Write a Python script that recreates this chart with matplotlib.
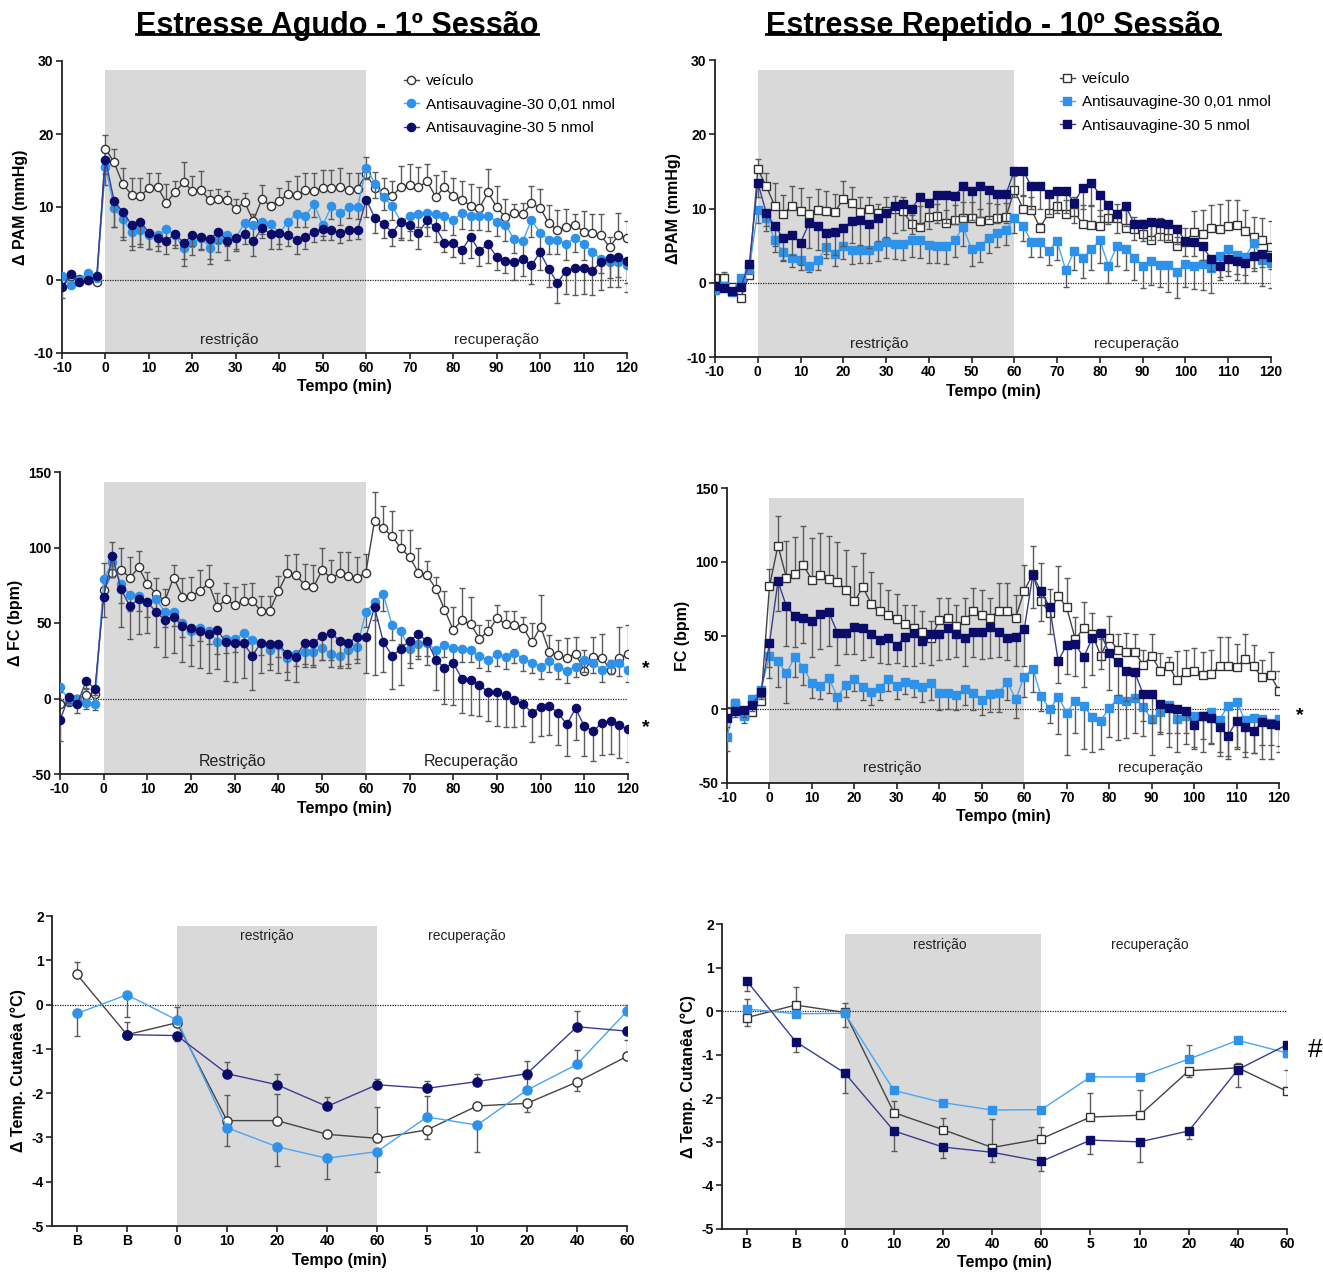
import numpy as np
import matplotlib
matplotlib.use('Agg')
import matplotlib.pyplot as plt
from matplotlib.lines import Line2D

plt.rcParams['font.family'] = ['Liberation Sans', 'DejaVu Sans']
plt.rcParams['axes.unicode_minus'] = False

# ---------------- data ----------------
t = list(range(-10, 121, 2))  # time points (min)

# Panel 1: Δ PAM, acute stress (1st session)
pam1_veh = [0.0, 0.5, 0.2, 0.0, -0.3,
            18.0, 16.1, 13.1, 11.7, 11.5, 12.6, 12.7, 10.6, 12.0, 13.4,
            12.2, 12.3, 10.9, 11.1, 11.0, 9.7, 10.7, 8.1, 11.1, 10.1,
            10.8, 11.8, 11.6, 12.3, 12.2, 12.6, 12.6, 12.7, 12.3, 12.5,
            14.5, 12.6, 12.0, 11.5, 12.8, 13.0, 12.7, 13.5, 11.4, 12.7,
            11.5, 11.0, 10.2, 9.8, 12.0, 10.0, 8.6, 9.2, 9.0, 10.5,
            9.9, 7.8, 6.8, 7.3, 7.6, 6.6, 6.4, 6.1, 4.5, 6.1,
            5.8]
pam1_veh_err = [0.6, 0.4, 0.3, 0.3, 0.3,
                1.8, 1.8, 2.2, 2.3, 2.5, 2.0, 1.9, 2.6, 1.5, 2.8,
                2.1, 2.6, 1.4, 1.4, 1.2, 1.4, 1.2, 0.9, 1.9, 0.6,
                1.8, 1.7, 2.6, 2.4, 2.5, 2.4, 2.5, 2.6, 2.4, 2.1,
                2.3, 2.2, 2.0, 2.0, 2.8, 2.9, 2.8, 2.4, 3.0, 2.2,
                2.5, 2.6, 2.9, 2.9, 3.2, 2.9, 2.5, 1.2, 1.5, 2.4,
                2.6, 2.5, 2.8, 2.4, 1.5, 2.9, 2.7, 3.0, 1.4, 3.1,
                2.3]
pam1_low = [0.6, -0.7, 0.0, 1.0, 0.3,
            15.5, 9.9, 8.3, 6.6, 6.9, 6.1, 6.2, 7.0, 6.1, 4.4,
            5.1, 5.8, 4.4, 5.5, 6.1, 5.8, 7.8, 7.6, 7.9, 7.7,
            6.4, 8.0, 9.1, 8.8, 10.4, 7.5, 10.1, 9.2, 10.0, 10.0,
            15.4, 13.2, 11.4, 10.1, 8.0, 8.7, 9.0, 9.2, 9.0, 8.7,
            8.2, 9.2, 8.8, 8.7, 8.8, 8.0, 7.6, 5.6, 5.3, 8.2,
            6.5, 5.5, 5.5, 4.9, 5.8, 4.9, 3.9, 2.9, 2.5, 2.5,
            2.0]
pam1_low_err = [0.5, 0.3, 0.3, 0.4, 0.3,
                2.5, 2.6, 2.4, 2.0, 2.0, 1.8, 1.5, 1.6, 1.7, 1.5,
                1.7, 1.6, 1.5, 1.6, 1.5, 1.8, 1.7, 1.8, 1.6, 1.5,
                1.5, 1.7, 1.8, 1.6, 1.8, 1.5, 1.7, 1.6, 1.5, 1.6,
                1.5, 2.0, 1.8, 1.9, 2.2, 2.0, 1.8, 2.0, 2.1, 1.9,
                2.0, 2.2, 2.0, 1.8, 2.1, 2.0, 2.2, 1.9, 2.0, 2.3,
                2.1, 2.0, 1.9, 2.2, 2.0, 2.1, 2.3, 2.0, 2.2, 2.1,
                2.4]
pam1_high = [-0.9, 0.8, -0.3, 0.0, 0.6,
             16.5, 10.8, 9.3, 7.6, 8.0, 6.5, 5.8, 5.4, 6.3, 5.1,
             6.1, 5.9, 5.6, 6.6, 5.4, 5.7, 6.3, 5.3, 7.1, 6.3,
             6.4, 6.1, 5.5, 5.9, 6.6, 7.0, 6.8, 6.5, 6.8, 6.8,
             11.0, 8.5, 7.7, 6.5, 8.0, 7.6, 6.4, 8.2, 7.2, 5.1,
             5.0, 4.1, 5.9, 4.0, 4.9, 3.2, 2.6, 2.5, 2.9, 2.0,
             3.8, 1.5, -0.4, 1.3, 1.7, 1.7, 1.3, 2.4, 3.0, 3.2,
             2.6]
pam1_high_err = [1.6, 0.3, 0.4, 0.3, 0.3,
                 2.0, 3.5, 3.8, 3.5, 3.5, 2.2, 1.8, 1.9, 1.5, 3.2,
                 1.5, 1.8, 3.4, 1.6, 2.7, 1.5, 1.4, 2.0, 1.4, 2.0,
                 2.2, 1.5, 1.9, 1.7, 1.4, 1.5, 1.3, 1.4, 1.3, 1.2,
                 2.4, 2.1, 1.9, 1.9, 2.5, 2.1, 2.1, 2.2, 2.0, 1.3,
                 1.8, 1.8, 2.9, 2.1, 2.6, 1.8, 1.7, 2.5, 2.4, 2.5,
                 2.4, 2.4, 2.7, 3.2, 3.7, 3.6, 3.3, 3.8, 4.0, 4.1,
                 4.2]

# Panel 2: Δ PAM, repeated stress (10th session)
pam2_veh = [0.7, 0.7, -0.6, -2.0, 1.0,
            15.3, 13.0, 10.3, 9.3, 10.4, 9.7, 9.2, 9.8, 9.6, 9.5,
            11.3, 10.7, 9.5, 10.0, 9.4, 9.6, 9.9, 9.6, 7.9, 7.5,
            8.8, 9.0, 8.0, 8.4, 8.7, 8.7, 8.3, 8.5, 8.7, 8.8,
            12.5, 10.0, 9.8, 7.4, 9.4, 10.4, 9.3, 9.5, 7.9, 7.8,
            7.7, 8.7, 8.7, 7.4, 7.2, 6.6, 5.7, 7.2, 6.0, 5.0,
            5.5, 6.9, 6.6, 7.4, 7.3, 7.6, 7.8, 7.0, 6.2, 5.7,
            4.8]
pam2_veh_err = [0.5, 0.7, 0.3, 0.3, 0.5,
                1.3, 1.8, 3.1, 2.5, 2.6, 3.1, 2.4, 2.8, 2.8, 2.5,
                2.4, 2.2, 2.1, 1.6, 1.2, 2.0, 1.8, 2.0, 1.2, 2.8,
                1.5, 1.6, 1.8, 2.1, 2.2, 2.2, 1.6, 2.2, 1.9, 1.9,
                1.9, 1.7, 1.8, 0.7, 2.5, 1.9, 1.9, 2.1, 2.6, 2.5,
                2.1, 1.8, 1.9, 2.4, 1.7, 1.9, 2.2, 1.5, 1.7, 1.2,
                1.9, 2.8, 3.2, 3.1, 3.3, 3.6, 3.4, 2.8, 2.7, 3.0,
                3.5]
pam2_low = [-1.0, -0.4, -1.2, 0.6, 1.8,
            9.8, 8.7, 5.7, 4.1, 3.3, 3.0, 2.3, 3.0, 4.8, 3.9,
            5.0, 4.4, 4.4, 4.4, 4.9, 5.5, 5.2, 5.2, 5.8, 5.7,
            5.1, 5.0, 4.9, 5.7, 7.5, 4.5, 5.0, 6.0, 6.7, 7.1,
            8.7, 7.7, 5.5, 5.5, 4.3, 5.6, 1.7, 4.3, 3.3, 4.5,
            5.7, 2.3, 5.0, 4.6, 3.4, 2.3, 2.9, 2.4, 2.4, 1.5,
            2.5, 2.3, 2.5, 2.0, 3.6, 4.6, 3.7, 3.5, 5.4, 3.1,
            2.7]
pam2_low_err = [0.5, 0.4, 0.4, 0.4, 0.6,
                1.8, 1.7, 1.6, 1.2, 1.2, 1.3, 0.9, 1.3, 1.5, 1.6,
                1.8, 1.9, 1.8, 1.7, 2.0, 2.1, 2.0, 2.2, 2.3, 2.4,
                2.5, 2.3, 2.4, 2.2, 2.6, 2.3, 2.2, 2.0, 1.9, 2.0,
                2.0, 2.1, 2.0, 2.0, 1.9, 2.6, 2.3, 2.6, 2.7, 2.8,
                3.1, 2.3, 2.8, 2.9, 3.0, 3.0, 3.2, 3.0, 3.6, 3.5,
                3.1, 3.1, 3.5, 3.4, 3.2, 3.7, 3.3, 3.6, 3.8, 3.6,
                3.4]
pam2_high = [-0.4, -0.7, -1.1, -0.6, 2.5,
             13.5, 9.4, 7.6, 6.0, 6.4, 5.4, 8.0, 7.7, 6.7, 6.8,
             7.4, 8.3, 8.5, 7.9, 8.7, 9.4, 10.3, 10.6, 10.0, 11.6,
             10.8, 11.8, 11.8, 11.7, 13.0, 12.3, 13.0, 12.5, 11.9, 11.9,
             15.1, 15.1, 13.0, 13.0, 12.0, 12.3, 12.4, 10.8, 12.8, 13.5,
             11.8, 10.5, 9.2, 10.4, 7.9, 7.9, 8.2, 8.1, 7.9, 7.3,
             5.6, 5.5, 4.9, 3.2, 2.3, 3.2, 2.9, 2.6, 3.6, 3.9,
             3.5]
pam2_high_err = [0.4, 0.4, 0.4, 0.4, 0.5,
                 2.0, 1.8, 2.6, 2.9, 2.6, 3.0, 3.3, 3.3, 2.8, 3.0,
                 2.5, 3.0, 3.4, 3.2, 3.1, 3.3, 3.6, 3.5, 3.4, 3.7,
                 3.6, 3.8, 3.7, 3.8, 4.0, 3.9, 4.1, 3.9, 3.8, 3.9,
                 3.5, 3.3, 3.0, 3.1, 2.8, 2.9, 3.0, 2.7, 2.9, 3.0,
                 2.8, 2.6, 2.5, 2.7, 2.2, 2.3, 2.4, 2.3, 2.2, 2.1,
                 2.0, 1.9, 1.8, 1.6, 1.5, 1.6, 1.7, 1.5, 1.6, 1.8,
                 1.7]

# Panel 3: Δ FC, acute stress
fc1_veh = [-3.7, -2.0, -0.5, 2.0, 3.3,
           71.7, 83.4, 85.4, 79.9, 86.8, 75.7, 69.5, 64.7, 80.1, 67.5,
           68.0, 71.1, 76.4, 60.7, 65.6, 62.0, 64.7, 64.7, 58.1, 58.1,
           71.1, 82.8, 81.7, 75.1, 73.7, 85.0, 79.9, 82.8, 81.2, 79.9,
           83.4, 117.7, 112.6, 107.5, 99.6, 93.8, 83.4, 81.7, 72.8, 58.9,
           45.5, 51.9, 49.2, 39.7, 44.4, 53.0, 49.4, 49.0, 47.0, 37.1,
           47.5, 30.9, 28.7, 26.9, 29.8, 18.3, 27.4, 26.9, 18.8, 26.5,
           29.4]
fc1_veh_err = [3, 3, 3, 4, 4,
               18, 20, 14, 13.7, 11, 8, 10, 8, 8, 12,
               12.5, 14, 12, 9, 10.6, 12, 11, 12, 10, 10,
               10, 12, 14, 14, 14.6, 14.5, 12, 14, 16, 14,
               12.6, 19, 15, 16.7, 12, 17.7, 16.5, 9.5, 7.8, 12.4,
               15, 21, 18, 8.8, 7.5, 8.8, 8.6, 9, 7, 12.6,
               21, 11, 10, 13.4, 11, 13.7, 13.5, 16, 6.6, 21,
               19]
fc1_low = [7.5, -1.0, -0.2, -2.9, -3.5,
           79.0, 90.5, 75.5, 68.7, 67.8, 64.2, 65.8, 57.2, 57.2, 49.9,
           44.6, 46.4, 44.8, 37.7, 39.1, 39.1, 43.3, 38.9, 36.9, 32.0,
           35.3, 26.5, 29.4, 31.1, 31.1, 33.3, 29.8, 28.0, 32.0, 34.0,
           57.4, 63.8, 69.1, 48.6, 44.8, 32.7, 36.4, 36.9, 32.0, 35.3,
           33.6, 33.1, 32.0, 28.0, 25.4, 29.8, 27.6, 30.2, 26.3, 23.8,
           21.0, 24.7, 21.0, 18.5, 21.0, 25.8, 23.8, 19.2, 22.9, 23.2,
           19.2]
fc1_low_err = [3, 3, 3, 4, 4,
               12, 10, 12, 11, 10, 10, 9, 10, 9, 9,
               9, 8, 9, 8, 9, 8, 9, 8, 8, 9,
               8, 9, 8, 8, 9, 8, 9, 8, 9, 8,
               10, 12, 11, 10, 9, 9, 8, 9, 8, 8,
               8, 9, 8, 8, 7, 8, 8, 7, 8, 7,
               8, 7, 8, 8, 7, 8, 7, 8, 7, 8,
               8]
fc1_high = [-14.3, 1.1, -3.5, 11.9, 6.2,
            67.3, 94.3, 72.2, 61.1, 66.0, 64.2, 57.0, 52.3, 54.1, 48.1,
            46.6, 44.4, 43.0, 45.3, 37.3, 36.6, 36.6, 28.3, 36.9, 36.2,
            36.0, 29.4, 27.8, 36.9, 36.9, 41.5, 43.3, 38.4, 36.9, 40.8,
            40.8, 60.5, 37.5, 28.3, 32.7, 38.4, 42.4, 38.2, 25.8, 20.1,
            23.4, 13.2, 12.4, 9.1, 4.0, 4.6, 2.2, -0.9, -3.5, -9.5,
            -5.7, -5.1, -9.5, -17.2, -6.6, -18.3, -21.6, -16.3, -14.6, -17.4,
            -20.5]
fc1_high_err = [14, 4, 6, 5, 4,
                13, 14, 25, 22, 23, 21, 23, 25, 24, 24,
                25, 24, 26, 26, 26, 26, 23, 23, 20, 17,
                19, 17, 17, 16, 16, 16, 18, 17, 17, 17,
                24, 45, 20, 22, 24, 18, 16, 16, 20, 24,
                28, 23, 23, 21, 19, 23, 21, 18, 15, 19,
                19, 19, 21, 21, 21, 20, 20, 21, 22, 22,
                21.5]

# Panel 4: FC, repeated stress
fc2_veh = [-1.6, 2.9, -3.8, -2.0, 5.7,
           83.3, 110.9, 89.0, 91.6, 97.5, 87.8, 90.7, 88.5, 86.4, 81.0,
           73.1, 82.8, 71.3, 66.3, 63.6, 61.3, 57.9, 55.4, 52.7, 48.0,
           60.2, 62.2, 56.6, 60.2, 66.5, 63.6, 62.2, 66.7, 66.7, 62.2,
           80.5, 91.6, 73.1, 65.2, 76.9, 69.0, 47.7, 54.8, 51.1, 36.4,
           48.2, 40.3, 38.5, 39.1, 30.1, 36.2, 26.2, 29.6, 19.5, 25.1,
           25.8, 22.9, 24.0, 29.0, 29.0, 28.5, 34.2, 29.0, 21.7, 22.9,
           12.7]
fc2_veh_err = [3, 4, 4, 4, 4,
               12, 20, 25, 25, 27, 28, 29, 29, 27, 27,
               24, 23, 22, 19, 17, 17, 13, 15, 14, 11.5,
               15, 13, 14, 15, 15.5, 17, 13, 19, 19, 15,
               17.5, 19, 26, 16, 20, 20, 15, 18, 14, 11,
               15, 11, 13, 12, 10, 15, 12, 6, 20, 15,
               16, 16, 16, 20, 20, 16, 17, 14.6, 12, 16,
               13]
fc2_low = [-18.6, 4.0, -4.5, 6.8, 13.1,
           36.2, 32.4, 24.4, 35.7, 28.3, 17.6, 15.8, 21.0, 8.4, 16.5,
           20.6, 15.4, 12.0, 14.5, 20.6, 15.8, 18.3, 17.0, 15.2, 17.6,
           11.3, 11.3, 9.5, 13.6, 11.3, 6.3, 10.2, 11.3, 18.6, 6.8,
           22.2, 27.6, 8.8, 0.0, 8.4, -2.3, 5.7, 2.3, -5.0, -7.7,
           0.9, 7.0, 5.7, 7.9, 1.8, -6.8, -2.0, 2.7, -6.3, -4.3,
           -4.8, -4.3, -1.8, -7.0, 2.5, 5.0, -7.5, -5.7, -6.8, -9.0,
           -6.3]
fc2_low_err = [10, 5, 5, 5, 5,
               15, 17, 20, 14, 12, 10, 9, 10, 8, 8,
               8, 9, 9, 8, 8, 9, 8, 9, 10, 11,
               12, 11, 10, 11, 12, 10, 12, 13, 12, 13,
               14, 16, 10, 9.5, 25, 29, 22, 29, 24, 19,
               20, 28, 25, 24, 20, 24, 15, 28, 23, 19,
               22, 25, 22, 25, 34, 32, 25, 24, 27, 25,
               23]
fc2_high = [-6.1, -1.0, -0.5, 2.9, 12.0,
            44.8, 86.7, 69.7, 63.3, 61.8, 59.5, 64.7, 65.6, 52.0, 51.4,
            55.7, 55.0, 50.7, 47.1, 48.0, 43.2, 49.3, 51.4, 46.2, 50.9,
            50.7, 54.8, 51.1, 48.2, 52.3, 52.3, 55.7, 52.3, 48.6, 49.3,
            54.3, 90.7, 79.9, 69.2, 32.8, 43.7, 44.3, 35.1, 48.2, 51.6,
            38.0, 31.7, 25.8, 25.3, 10.2, 10.4, 3.4, 1.1, 0.2, -1.1,
            -10.6, -4.5, -5.9, -12.2, -17.9, -7.9, -12.0, -14.9, -8.4, -10.2,
            -10.9]
fc2_high_err = [6, 4, 5, 4, 5,
                16, 20, 27, 21, 17, 24, 24, 23, 22, 14,
                18, 21.5, 15, 16, 17, 12, 20, 22, 15, 21,
                17, 21, 16, 19, 17, 18, 21, 17, 15, 20,
                25, 22, 20, 18, 15, 20, 22, 20, 25, 24,
                25, 22, 20, 18, 18, 20, 19, 17, 16, 15,
                15, 16, 17, 17, 16, 18, 17, 15, 16, 14,
                14]

# Panels 5-6: Δ skin temperature
temp_cats = ['B', 'B', '0', '10', '20', '40', '60', '5', '10', '20', '40', '60']

tmp1_veh = [0.68, -0.68, -0.41, -2.62, -2.62, -2.93, -3.02, -2.83, -2.29, -2.23, -1.75, -1.17]
tmp1_veh_lo = [0, 0, 0, 0, 0, 0, 0, 0.21, 0, 0.2, 0.2, 0]
tmp1_veh_hi = [0.28, 0.28, 0.35, 0.58, 0.6, 0, 0.7, 0, 0, 0, 0, 0.36]
tmp1_low = [-0.20, 0.22, -0.35, -2.78, -3.21, -3.47, -3.32, -2.54, -2.72, -1.93, -1.35, -0.15]
tmp1_low_lo = [0.52, 0.51, 0, 0.42, 0.43, 0.47, 0.46, 0, 0.6, 0, 0, 0]
tmp1_low_hi = [0, 0, 0, 0, 0, 0, 0, 0.47, 0, 0.25, 0.32, 0.13]
tmp1_high = [np.nan, -0.68, -0.70, -1.56, -1.81, -2.30, -1.81, -1.89, -1.74, -1.56, -0.50, -0.60]
tmp1_high_lo = [0, 0, 0.13, 0, 0, 0, 0, 0, 0, 0, 0, 0]
tmp1_high_hi = [0, 0, 0, 0.27, 0.25, 0.21, 0.12, 0.17, 0.18, 0.28, 0.36, 0.1]

tmp2_veh = [-0.15, 0.14, -0.03, -2.33, -2.72, -3.13, -2.93, -2.43, -2.39, -1.37, -1.30, -1.84]
tmp2_veh_lo = [0.19, 0, 0.33, 0, 0, 0, 0, 0, 0, 0.14, 0, 0]
tmp2_veh_hi = [0, 0.42, 0.22, 0.27, 0.27, 0.65, 0.28, 0.56, 0.59, 0, 0.1, 0.5]
tmp2_low = [0.05, -0.06, -0.05, -1.82, -2.10, -2.27, -2.26, -1.51, -1.51, -1.10, -0.67, -0.96]
tmp2_low_lo = [0, 0, 0, 0, 0, 0, 0, 0, 0, 0, 0, 0.1]
tmp2_low_hi = [0.23, 0, 0, 0.08, 0, 0, 0, 0, 0, 0.32, 0, 0]
tmp2_high = [0.70, -0.70, -1.42, -2.75, -3.12, -3.24, -3.45, -2.96, -3.00, -2.75, -1.34, -0.77]
tmp2_high_lo = [0.23, 0.23, 0.46, 0.46, 0.26, 0.23, 0.21, 0.31, 0.47, 0.19, 0.4, 0]
tmp2_high_hi = [0, 0, 0, 0, 0, 0, 0, 0, 0, 0, 0, 0]

labels = ['veículo', 'Antisauvagine-30 0,01 nmol', 'Antisauvagine-30 5 nmol']

for arr in [pam1_veh, pam1_veh_err, pam1_low, pam1_low_err, pam1_high, pam1_high_err,
            pam2_veh, pam2_veh_err, pam2_low, pam2_low_err, pam2_high, pam2_high_err,
            fc1_veh, fc1_veh_err, fc1_low, fc1_low_err, fc1_high, fc1_high_err,
            fc2_veh, fc2_veh_err, fc2_low, fc2_low_err, fc2_high, fc2_high_err]:
    assert len(arr) == len(t), len(arr)

# ---------------- style ----------------
C_LIGHT = '#2f92ea'
C_LIGHT_LINE = '#4aa6f2'
C_DARK = '#0b0b6a'
C_DARK_LINE = '#3d3d8f'
C_VEH_EDGE = '#333333'
C_VEH_LINE = '#444444'
C_ERR = '#5a5a5a'
C_SHADE = '#d9d9d9'
TICK_FS = 10
LAB_FS = 11.5

W, H = 1323, 1273
fig = plt.figure(figsize=(W / 100, H / 100), dpi=100)


def add_ax(left, top, right, bottom):
    return fig.add_axes([left / W, 1 - bottom / H, (right - left) / W, (bottom - top) / H])


def style_ax(ax):
    for s in ['top', 'right']:
        ax.spines[s].set_visible(False)
    for s in ['left', 'bottom']:
        ax.spines[s].set_linewidth(1.3)
        ax.spines[s].set_color('#222222')
    ax.tick_params(direction='out', length=4, width=1.2, color='#222222',
                   labelsize=TICK_FS, pad=2)
    for lb in ax.get_xticklabels() + ax.get_yticklabels():
        lb.set_fontweight('bold')


def series(ax, x, y, lo, hi, marker, face, edge, lcolor, ms, z):
    ax.errorbar(x, y, yerr=[lo, hi], fmt='none', ecolor=C_ERR, elinewidth=1.0,
                capsize=2.5, capthick=1.0, zorder=z)
    ax.plot(x, y, '-', color=lcolor, lw=1.0, zorder=z + 0.1)
    ax.plot(x, y, linestyle='none', marker=marker, ms=ms, mfc=face, mec=edge,
            mew=1.0, zorder=z + 0.2)


def ts_panel(ax, veh, veh_err, low, low_err, high, high_err, marker,
             ylim, yticks, ylabel, shade_top, txt_l, txt_r, txt_y, txt_xl, txt_xr,
             txt_fs=11):
    ax.fill_between([0, 60], ylim[0], shade_top, color=C_SHADE, lw=0, zorder=0)
    ax.axhline(0, color='#222222', lw=0.9, ls=(0, (1, 1)), zorder=0.5)
    zeros = [0] * len(t)
    ms = 5.9 if marker == 'o' else 5.6
    series(ax, t, veh, zeros, veh_err, marker, 'white', C_VEH_EDGE, C_VEH_LINE, ms, 2)
    series(ax, t, low, low_err, zeros, marker, C_LIGHT, C_LIGHT, C_LIGHT_LINE, ms, 3)
    series(ax, t, high, high_err, zeros, marker, C_DARK, C_DARK, C_DARK_LINE, ms, 4)
    ax.set_xlim(-10, 120)
    ax.set_ylim(*ylim)
    ax.set_xticks(list(range(-10, 121, 10)))
    ax.set_yticks(yticks)
    ax.set_xlabel('Tempo (min)', fontsize=LAB_FS, fontweight='bold', labelpad=3)
    ax.set_ylabel(ylabel, fontsize=LAB_FS, fontweight='bold', labelpad=4)
    ax.text(txt_xl, txt_y, txt_l, fontsize=txt_fs, ha='center', va='center', color='#222222')
    ax.text(txt_xr, txt_y, txt_r, fontsize=txt_fs, ha='center', va='center', color='#222222')
    style_ax(ax)


def legend(ax, marker, x, y):
    ms = 5.9 if marker == 'o' else 5.6
    hs = [Line2D([], [], color=C_VEH_LINE, lw=1.0, marker=marker, ms=ms, mfc='white', mec=C_VEH_EDGE),
          Line2D([], [], color=C_LIGHT_LINE, lw=1.0, marker=marker, ms=ms, mfc=C_LIGHT, mec=C_LIGHT),
          Line2D([], [], color=C_DARK_LINE, lw=1.0, marker=marker, ms=ms, mfc=C_DARK, mec=C_DARK)]
    ax.legend(hs, labels, loc='upper left', bbox_to_anchor=(x, y), frameon=False,
              fontsize=11, handlelength=1.0, handletextpad=0.45, labelspacing=0.62,
              borderaxespad=0, borderpad=0, numpoints=1)


# Panel 1
ax1 = add_ax(62, 61, 627, 353)
ts_panel(ax1, pam1_veh, pam1_veh_err, pam1_low, pam1_low_err, pam1_high, pam1_high_err, 'o',
         (-10, 30), [-10, 0, 10, 20, 30], 'Δ PAM (mmHg)', 28.8,
         'restrição', 'recuperação', -8.2, 28.5, 90)
legend(ax1, 'o', 0.605, 0.955)

# Panel 2
ax2 = add_ax(715, 60, 1271, 357)
ts_panel(ax2, pam2_veh, pam2_veh_err, pam2_low, pam2_low_err, pam2_high, pam2_high_err, 's',
         (-10, 30), [-10, 0, 10, 20, 30], 'ΔPAM (mmHg)', 28.7,
         'restrição', 'recuperação', -8.3, 28.5, 88.5)
legend(ax2, 's', 0.62, 0.96)

# Panel 3
ax3 = add_ax(60, 472, 628, 774)
ts_panel(ax3, fc1_veh, fc1_veh_err, fc1_low, fc1_low_err, fc1_high, fc1_high_err, 'o',
         (-50, 150), [-50, 0, 50, 100, 150], 'Δ FC (bpm)', 143.5,
         'Restrição', 'Recuperação', -42, 29.5, 84, txt_fs=11.5)
ax3.text(124, 20, '*', fontsize=14, fontweight='bold', ha='center', va='center', clip_on=False)
ax3.text(124, -19, '*', fontsize=14, fontweight='bold', ha='center', va='center', clip_on=False)

# Panel 4
ax4 = add_ax(727, 488, 1279, 783)
ts_panel(ax4, fc2_veh, fc2_veh_err, fc2_low, fc2_low_err, fc2_high, fc2_high_err, 's',
         (-50, 150), [-50, 0, 50, 100, 150], 'FC (bpm)', 143,
         'restrição', 'recuperação', -40, 29, 92)
ax4.text(125, -4, '*', fontsize=14, fontweight='bold', ha='center', va='center', clip_on=False)


# Panels 5, 6
def temp_panel(ax, veh, vlo, vhi, low, llo, lhi, high, hlo, hhi, marker, ms, txt_y, xl, xr):
    x = list(range(len(temp_cats)))
    ax.fill_between([2, 6], -5, 1.78, color=C_SHADE, lw=0, zorder=0)
    ax.axhline(0, color='#222222', lw=0.9, ls=(0, (1, 1)), zorder=0.5)
    series(ax, x, veh, vlo, vhi, marker, 'white', C_VEH_EDGE, C_VEH_LINE, ms, 2)
    series(ax, x, low, llo, lhi, marker, C_LIGHT, C_LIGHT, C_LIGHT_LINE, ms, 3)
    series(ax, x, high, hlo, hhi, marker, C_DARK, C_DARK, C_DARK_LINE, ms, 4)
    ax.set_xlim(-0.5, 11)
    ax.set_ylim(-5, 2)
    ax.set_xticks(x)
    ax.set_xticklabels(temp_cats)
    ax.set_yticks([-5, -4, -3, -2, -1, 0, 1, 2])
    ax.set_xlabel('Tempo (min)', fontsize=LAB_FS, fontweight='bold', labelpad=3)
    ax.set_ylabel('Δ Temp. Cutanêa (°C)', fontsize=LAB_FS, fontweight='bold', labelpad=4)
    ax.text(xl, txt_y, 'restrição', fontsize=10, ha='center', va='center', color='#222222')
    ax.text(xr, txt_y, 'recuperação', fontsize=10, ha='center', va='center', color='#222222')
    style_ax(ax)


ax5 = add_ax(52, 916, 627, 1226)
temp_panel(ax5, tmp1_veh, tmp1_veh_lo, tmp1_veh_hi, tmp1_low, tmp1_low_lo, tmp1_low_hi,
           tmp1_high, tmp1_high_lo, tmp1_high_hi, 'o', 6.6, 1.55, 3.8, 7.8)

ax6 = add_ax(722, 924, 1287, 1229)
temp_panel(ax6, tmp2_veh, tmp2_veh_lo, tmp2_veh_hi, tmp2_low, tmp2_low_lo, tmp2_low_hi,
           tmp2_high, tmp2_high_lo, tmp2_high_hi, 's', 6.3, 1.51, 3.93, 8.2)
ax6.text(11.57, -0.9, '#', fontsize=19, ha='center', va='center', clip_on=False)

# Titles with underline
titles = [('Estresse Agudo - 1º Sessão', 337), ('Estresse Repetido - 10º Sessão', 993)]
tobjs = []
for txt, xc in titles:
    tobjs.append(fig.text(xc / W, 1 - 26 / H, txt, fontsize=22, fontweight='bold',
                          ha='center', va='center'))
fig.canvas.draw()
r = fig.canvas.get_renderer()
for tob in tobjs:
    bb = tob.get_window_extent(r)
    yline = bb.y0 + 0.22 * bb.height
    fig.add_artist(Line2D([bb.x0 / W, bb.x1 / W], [yline / H, yline / H],
                          color='black', lw=2.0, transform=fig.transFigure))

fig.savefig('out.png', dpi=100)
